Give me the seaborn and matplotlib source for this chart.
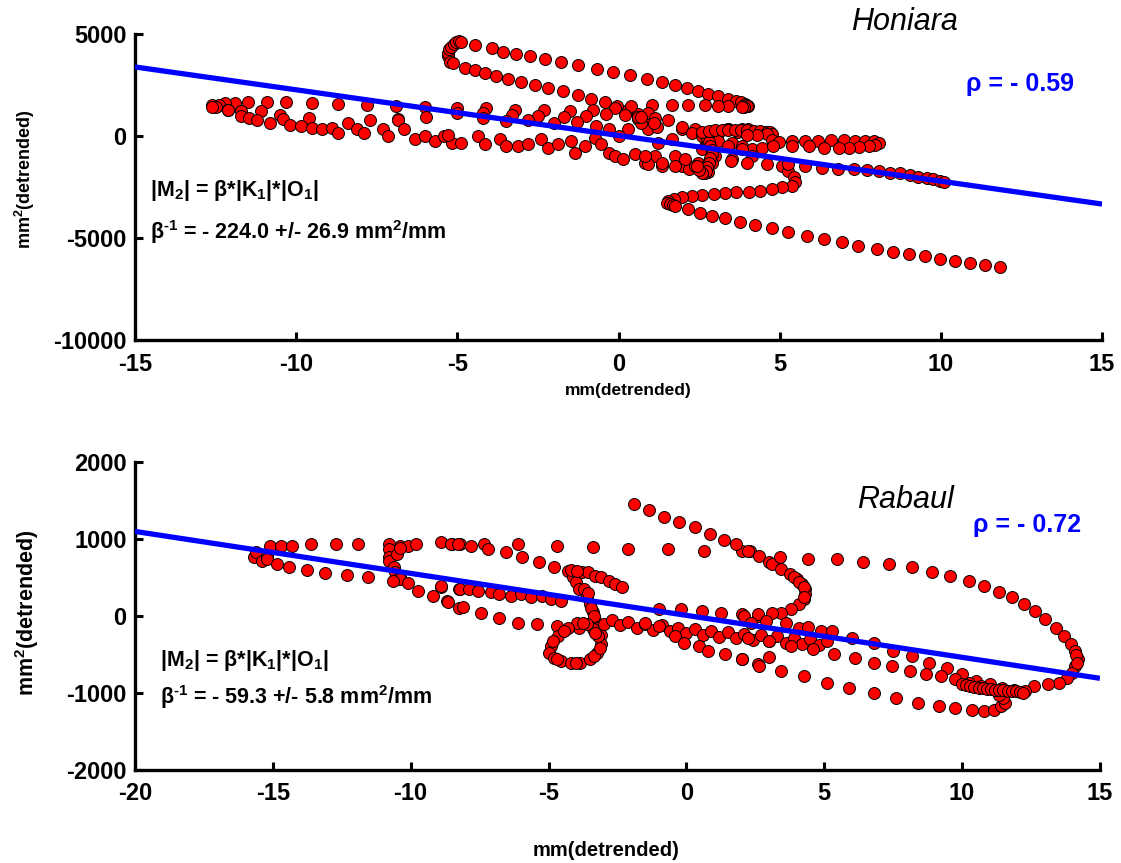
import matplotlib
matplotlib.use("Agg")
import numpy as np
import pandas as pd
import matplotlib.pyplot as plt
import seaborn as sns

# ---------------- Honiara: (mm, mm^2) detrended pairs ----------------
honiara_upper_loop = [
    (-5.30, 3900), (-5.29, 4060), (-5.25, 4250), (-5.19, 4380), (-5.10, 4500), (-5.03, 4630),
    (-4.95, 4650), (-4.88, 4630), (-4.46, 4470), (-3.94, 4300), (-3.58, 4140), (-3.17, 4030),
    (-2.75, 3900), (-2.29, 3770), (-1.77, 3620), (-1.25, 3460), (-0.68, 3290), (-0.16, 3130),
    (0.35, 2970), (0.87, 2790), (1.34, 2640), (1.75, 2480), (2.11, 2350), (2.48, 2220),
    (2.79, 2070), (3.10, 1940), (3.41, 1810), (3.66, 1700), (3.80, 1650), (3.92, 1590),
    (3.95, 1530), (4.03, 1490), (3.98, 1450), (3.90, 1420),
]
honiara_lower_loop = [
    (-5.22, 3650), (-5.13, 3570), (-4.77, 3330), (-4.46, 3250), (-4.15, 3080), (-3.79, 2920),
    (-3.42, 2790), (-3.01, 2640), (-2.60, 2510), (-2.18, 2350), (-1.72, 2190), (-1.25, 1990),
    (-0.84, 1810), (-0.43, 1650), (-0.06, 1490), (0.30, 1290), (0.60, 1100), (0.85, 900),
]
honiara_return_row = [
    (3.83, 1420), (3.41, 1450), (3.10, 1490), (2.68, 1540), (2.16, 1540), (1.65, 1540),
    (1.03, 1540), (0.40, 1450), (-0.12, 1390), (-0.80, 1290), (-1.50, 1250), (-2.30, 1290),
    (-3.20, 1290), (-4.10, 1390), (-5.00, 1390), (-6.00, 1440), (-6.90, 1490), (-7.80, 1540),
    (-8.70, 1590), (-9.50, 1635), (-10.30, 1650), (-10.90, 1650), (-11.50, 1650),
    (-11.90, 1635), (-12.20, 1635), (-12.40, 1540), (-12.60, 1540),
]
honiara_sub_row = [
    (-12.50, 1400), (-12.10, 1290), (-11.70, 1210), (-11.10, 1210), (-10.50, 1050),
    (-9.60, 900), (-6.85, 850), (-5.96, 950), (-5.00, 1140), (-4.20, 1150), (-3.30, 1050),
    (-2.50, 1000), (-1.70, 950), (-1.00, 1000), (-0.40, 1100), (0.20, 1050), (0.60, 850),
    (-4.20, 900), (-3.50, 750), (-2.80, 800), (-2.00, 650), (-1.30, 700), (-0.70, 500),
]
honiara_wavy_row = [
    (-12.60, 1430), (-12.10, 1290), (-11.70, 970), (-11.45, 900), (-11.20, 800), (-10.80, 660),
    (-10.40, 850), (-10.20, 560), (-9.85, 480), (-9.50, 410), (-9.20, 320), (-8.90, 410),
    (-8.70, 170), (-8.40, 660), (-8.10, 320), (-7.90, 170), (-7.70, 800), (-7.30, 320),
    (-7.15, 0), (-6.85, 800), (-6.65, 320), (-6.30, -170), (-6.00, 0), (-5.70, -250),
    (-5.40, 0), (-5.15, -330), (-5.30, 70), (-4.88, -330), (-4.36, -10), (-4.15, -410),
    (-3.69, -170), (-3.48, -500), (-3.12, -500), (-2.80, -410), (-2.39, -170), (-2.18, -580),
    (-1.87, -410), (-1.46, -250), (-1.35, -820), (-1.04, -500),
]
honiara_cluster = [
    (-0.74, -75), (-0.53, -410), (-0.31, -820), (-0.12, -1000), (0.15, -1150), (0.50, -900),
    (0.81, -1300), (1.12, -1000), (1.34, -1490), (1.75, -1000), (1.96, -1490), (2.20, -1630),
    (2.48, -1300), (2.67, -1630), (2.79, -1780), (2.58, -660), (2.67, -170), (2.79, 170),
    (2.36, 320), (1.96, 320), (1.65, -170), (1.24, -330), (0.93, 320), (0.71, 660),
    (0.62, 950), (0.93, 1150), (1.12, 900), (1.18, 460), (0.30, 320), (0.00, -10),
    (-0.31, 320), (3.10, 170), (3.41, 320), (3.72, 220), (4.03, 320), (4.35, 220),
    (4.66, 170), (3.51, -330), (3.82, -500), (4.13, -660), (4.44, -580), (2.98, -1000),
    (2.89, -1300), (0.70, 950), (1.10, 660), (1.55, 800), (1.96, 460), (2.27, 170),
    (2.58, -10), (2.79, -330), (2.90, -820), (2.79, -1300), (2.67, -1800), (2.36, -1490),
    (2.05, -1150), (1.75, -1490), (1.34, -1300), (0.93, -1390), (0.81, -1000), (2.98, 220),
    (3.41, 320), (3.82, 320), (4.23, 220), (4.54, 220), (3.10, -250), (3.41, -500),
    (3.82, -660), (4.13, -1000), (3.51, -1150),
    (2.70, 100), (2.75, -100), (2.80, -300), (2.85, -500), (2.90, -700), (2.90, -900),
    (2.85, -1100), (2.80, -1300), (2.75, -1500), (2.70, -1700), (2.60, -1800), (2.50, -1650),
    (2.45, -1450), (2.60, 200), (2.80, 250), (3.00, 280), (3.20, 300), (3.40, 300),
    (3.60, 310), (3.80, 300), (4.00, 280), (4.20, 260), (4.40, 240), (4.60, 220),
    (4.70, 180), (4.75, 120), (4.60, 80), (4.30, 60), (4.00, 60),
]
honiara_s_curve = [
    (5.06, -1490), (5.27, -1730), (5.43, -2020), (5.47, -2270), (5.37, -2460), (5.06, -2510),
    (4.75, -2610), (4.38, -2710), (4.04, -2760), (3.66, -2760), (3.29, -2810), (2.95, -2850),
    (2.58, -2900), (2.27, -2950), (1.96, -3000), (1.71, -3100), (1.55, -3200), (1.50, -3300),
    (1.60, -3350), (1.70, -3400),
]
honiara_long_tail = [
    (1.75, -3425), (2.16, -3590), (2.52, -3750), (2.89, -3910), (3.30, -4040), (3.77, -4200),
    (4.23, -4370), (4.75, -4530), (5.27, -4720), (5.84, -4890), (6.36, -5050), (6.93, -5210),
    (7.44, -5380), (8.01, -5540), (8.53, -5670), (9.00, -5780), (9.51, -5900), (9.98, -6030),
    (10.45, -6140), (10.90, -6220), (11.38, -6320), (11.84, -6430),
]
honiara_right_rows = [
    (4.75, -220), (4.97, -300), (5.37, -260), (5.78, -230), (6.20, -230), (6.60, -200),
    (6.98, -200), (7.33, -230), (7.64, -230), (7.92, -260), (8.07, -320), (7.95, -420),
    (7.76, -480), (7.45, -560), (7.14, -610), (6.83, -610), (6.37, -580), (5.90, -510),
    (5.37, -510), (4.80, -480),
    (3.50, -1230), (4.00, -1300), (4.60, -1370), (5.27, -1390), (5.78, -1470), (6.30, -1550),
    (6.82, -1600), (7.29, -1635), (7.70, -1670), (8.07, -1720), (8.43, -1800), (8.74, -1830),
    (9.05, -1930), (9.30, -1990), (9.56, -2060), (9.77, -2120), (9.98, -2200), (10.10, -2250),
]
honiara_fit = (-224.0, 25.0)  # slope (mm^2/mm), intercept (mm^2)

# ---------------- Rabaul ----------------
rabaul_upper_row = [
    (-15.70, 760), (-15.60, 830), (-15.40, 720), (-15.20, 780), (-15.10, 905), (-14.70, 915),
    (-14.30, 915), (-13.60, 930), (-12.70, 940), (-11.90, 940), (-10.80, 940), (-10.40, 905),
    (-10.10, 915), (-9.80, 940), (-8.90, 955), (-8.50, 940), (-8.20, 930), (-8.55, 930),
    (-8.30, 930), (-7.80, 905), (-7.35, 940), (-6.10, 930), (-4.70, 905), (-3.40, 890),
    (-2.10, 875), (-0.65, 865), (0.65, 850), (2.00, 840), (2.30, 840),
]
rabaul_loop_left = [
    (-10.77, 865), (-10.80, 760), (-10.77, 710), (-10.60, 630), (-10.58, 565), (-10.40, 510),
    (-10.40, 475), (-10.50, 800), (-10.40, 880),
    (-7.20, 865), (-6.55, 825), (-5.95, 760), (-5.35, 705), (-4.80, 640), (-4.30, 580),
    (-4.10, 510), (-4.00, 435), (-3.90, 345), (-3.80, 565), (-3.55, 565), (-3.30, 525),
    (-3.10, 500), (-2.80, 450), (-2.60, 410), (-2.35, 370), (-4.20, 600), (-3.95, 580),
]
rabaul_lower_row = [
    (-15.20, 735), (-14.85, 670), (-14.40, 640), (-13.75, 600), (-13.10, 560), (-12.30, 530),
    (-11.55, 500), (-10.65, 450), (-10.10, 430), (-9.75, 320), (-9.20, 255), (-8.70, 190),
    (-8.25, 105), (-8.65, 175), (-8.10, 110), (-7.45, 45), (-6.80, -20), (-6.10, -85),
    (-5.40, -110), (-4.70, -135), (-3.90, -150), (-8.90, 380), (-8.25, 345),
    (-8.90, 385), (-8.20, 355), (-7.90, 345), (-7.55, 320), (-7.10, 310), (-6.80, 280),
    (-6.35, 265), (-6.00, 280), (-5.65, 240), (-5.25, 255), (-4.90, 215), (-4.55, 190),
]
rabaul_center = [
    (-3.70, 350), (-3.60, 250), (-3.50, 150), (-3.40, 50), (-3.30, -50), (-3.20, -150),
    (-3.10, -250), (-3.55, 300), (-3.45, 100), (-3.35, 0),
    (-4.90, -395), (-4.98, -475), (-4.80, -540), (-4.55, -590), (-4.20, -605), (-3.85, -605),
    (-3.50, -565), (-3.25, -475), (-3.10, -370), (-3.20, -265), (-3.40, -175), (-3.60, -110),
    (-3.95, -85), (-4.30, -150), (-4.65, -265), (-4.85, -330), (-4.70, -560), (-4.00, -610),
    (-3.35, -520), (-3.15, -420), (-3.30, -220), (-3.75, -95), (-4.45, -200),
    (-3.00, -100), (-2.70, -50), (-2.40, -120), (-2.10, -80), (-1.80, -150), (-1.50, -100),
    (-1.20, -180), (-0.90, -120), (-0.60, -200), (-0.30, -150), (0.00, -220), (0.30, -170),
    (0.60, -250), (0.90, -190), (1.20, -270), (1.50, -210), (1.80, -290), (2.10, -230),
    (2.40, -310), (2.70, -250), (3.00, -330), (3.30, -260), (3.60, -350), (3.90, -280),
    (4.20, -370), (4.50, -300), (4.80, -380), (5.10, -320),
    (-1.00, 85), (-0.18, 85), (0.55, 60), (1.27, 45), (2.00, 20), (2.60, 5),
    (-1.50, -85), (-1.00, -135), (-0.40, -265), (-0.07, -345), (0.44, -395), (0.80, -460),
    (1.40, -500), (2.00, -565), (2.60, -630), (3.00, -530),
]
rabaul_arc = [
    (-1.90, 1450), (-1.35, 1370), (-0.80, 1290), (-0.25, 1215), (0.30, 1150), (0.85, 1070),
    (1.35, 990), (1.80, 930), (2.25, 840), (2.65, 775), (3.00, 695), (3.10, 670),
    (3.45, 605), (3.75, 540), (4.00, 475), (4.20, 410), (4.30, 345), (4.30, 280),
    (4.25, 215), (4.10, 150), (3.80, 85), (3.45, 45), (3.10, 45), (2.60, 20), (2.10, -5),
    (3.90, 510), (4.10, 440), (4.25, 380), (4.28, 250),
]
rabaul_outer_arc = [
    (3.40, 760), (4.40, 735), (5.45, 735), (6.40, 695), (7.35, 670), (8.20, 630),
    (8.90, 570), (9.55, 515), (10.25, 450), (10.80, 385), (11.35, 305), (11.80, 240),
    (12.25, 150), (12.65, 60), (13.00, -45), (13.40, -150), (13.70, -260), (13.95, -370),
    (14.10, -460), (14.20, -565), (14.10, -655), (14.00, -735), (13.80, -800), (13.50, -865),
    (13.10, -890), (12.60, -915), (14.15, -510), (14.18, -610),
]
rabaul_right_rows = [
    (2.36, -85), (2.90, -70), (3.60, -85), (4.10, -150), (4.40, -140), (4.90, -200),
    (5.30, -200), (6.00, -280), (6.80, -345), (7.50, -460), (8.20, -525), (8.80, -605),
    (9.45, -670), (10.00, -760), (10.50, -850), (11.00, -890), (11.45, -930), (11.90, -955),
    (12.30, -980),
    (2.25, -280), (3.00, -330), (3.80, -395), (4.60, -435), (5.35, -500), (6.10, -550),
    (6.80, -605), (7.45, -655), (8.10, -710), (8.70, -760), (9.25, -785), (9.75, -825),
    (10.25, -865), (10.70, -915),
    (2.00, -565), (2.65, -655), (3.45, -720), (4.25, -785), (5.10, -865), (5.90, -930),
    (6.80, -995), (7.60, -1060), (8.40, -1125), (9.15, -1165), (9.75, -1190), (10.35, -1215),
    (10.80, -1230), (11.15, -1215), (11.40, -1175), (11.55, -1125), (11.50, -1060),
    (11.35, -1020),
    (10.00, -880), (10.15, -900), (10.30, -910), (10.45, -920), (10.60, -930), (10.75, -935),
    (10.90, -945), (11.05, -950), (11.20, -955), (11.35, -960), (11.50, -965), (11.65, -970),
    (11.80, -975), (11.95, -980), (12.10, -985), (12.20, -995),
]
rabaul_fit = (-54.5, 8.0)  # slope (mm^2/mm), intercept (mm^2)


def to_frame(*segments):
    rows = [p for seg in segments for p in seg]
    return pd.DataFrame(rows, columns=["mm", "mm2"])


honiara = to_frame(honiara_upper_loop, honiara_lower_loop, honiara_return_row,
                   honiara_sub_row, honiara_wavy_row, honiara_cluster,
                   honiara_s_curve, honiara_long_tail, honiara_right_rows)
rabaul = to_frame(rabaul_upper_row, rabaul_loop_left, rabaul_lower_row,
                  rabaul_center, rabaul_arc, rabaul_outer_arc, rabaul_right_rows)

sns.set_style("ticks", {"axes.edgecolor": "black", "xtick.color": "black",
                        "ytick.color": "black", "text.color": "black",
                        "axes.labelcolor": "black"})
plt.rcParams["font.family"] = ["Liberation Sans", "DejaVu Sans"]
plt.rcParams["font.weight"] = "bold"
plt.rcParams["axes.unicode_minus"] = False
plt.rcParams["mathtext.fontset"] = "custom"
plt.rcParams["mathtext.rm"] = "Liberation Sans:bold"
plt.rcParams["mathtext.bf"] = "Liberation Sans:bold"
plt.rcParams["mathtext.it"] = "Liberation Sans:bold"
plt.rcParams["mathtext.default"] = "bf"

fig = plt.figure(figsize=(11.21, 8.63), dpi=100)
ax1 = fig.add_axes([0.1204, 0.6060, 0.8627, 0.3546])
ax2 = fig.add_axes([0.1204, 0.1078, 0.8608, 0.3569])

panels = [
    (ax1, honiara, honiara_fit, (-15, 15), (-10000, 5000), [-15, -10, -5, 0, 5, 10, 15],
     [-10000, -5000, 0, 5000], "Honiara", (0.796, 1.040), "ρ = - 0.59", (0.915, 0.837),
     "- 224.0 +/- 26.9", (0.0155, 0.490), (0.0155, 0.353)),
    (ax2, rabaul, rabaul_fit, (-20, 15), (-2000, 2000), [-20, -15, -10, -5, 0, 5, 10, 15],
     [-2000, -1000, 0, 1000, 2000], "Rabaul", (0.798, 0.877), "ρ = - 0.72", (0.924, 0.795),
     "- 59.3 +/- 5.8", (0.026, 0.357), (0.026, 0.237)),
]

for (ax, df, fit, xlim, ylim, xt, yt, name, name_pos, rho, rho_pos,
     beta, m2_pos, beta_pos) in panels:
    xs = np.array(xlim, dtype=float)
    ax.plot(xs, fit[0] * xs + fit[1], color="#0000ff", lw=3.8, zorder=3, solid_capstyle="butt")
    sns.scatterplot(data=df, x="mm", y="mm2", ax=ax, s=74, color="#ff0000",
                    edgecolor="black", linewidth=0.7, zorder=2, legend=False)
    ax.set_xlim(*xlim)
    ax.set_ylim(*ylim)
    ax.set_xticks(xt)
    ax.set_yticks(yt)
    ax.set_xlabel("")
    ax.set_ylabel("")
    sns.despine(ax=ax)
    for side in ("left", "bottom"):
        ax.spines[side].set_linewidth(2.4)
        ax.spines[side].set_color("black")
    ax.tick_params(direction="in", length=6, width=2.2, labelsize=17, colors="black")
    ax.tick_params(axis="x", pad=9)
    ax.tick_params(axis="y", pad=6)
    for lab in ax.get_xticklabels() + ax.get_yticklabels():
        lab.set_fontweight("bold")
    ax.text(*name_pos, name, transform=ax.transAxes, ha="center", va="center",
            fontsize=22, fontstyle="italic", fontweight="normal")
    ax.text(*rho_pos, rho, transform=ax.transAxes, ha="center", va="center",
            fontsize=18, color="#0000ff", fontweight="bold")
    ax.text(*m2_pos, "|M$_2$| = β*|K$_1$|*|O$_1$|",
            transform=ax.transAxes, ha="left", va="center", fontsize=15.5, fontweight="bold")
    ax.text(*beta_pos, "β$^{\\text{-1}}$ = " + beta + " mm$^2$/mm",
            transform=ax.transAxes, ha="left", va="center", fontsize=15.5, fontweight="bold")

# axis titles: the lower panel uses a slightly larger size
fig.text(0.560, 0.548, "mm(detrended)", ha="center", va="center", fontsize=12.5, fontweight="bold")
fig.text(0.541, 0.015, "mm(detrended)", ha="center", va="center", fontsize=14.5, fontweight="bold")
fig.text(0.022, 0.7926, "mm$^2$(detrended)", ha="center", va="center", rotation=90,
         fontsize=13, fontweight="bold")
fig.text(0.024, 0.2897, "mm$^2$(detrended)", ha="center", va="center", rotation=90,
         fontsize=15.5, fontweight="bold")

fig.savefig("out.png", dpi=100)
